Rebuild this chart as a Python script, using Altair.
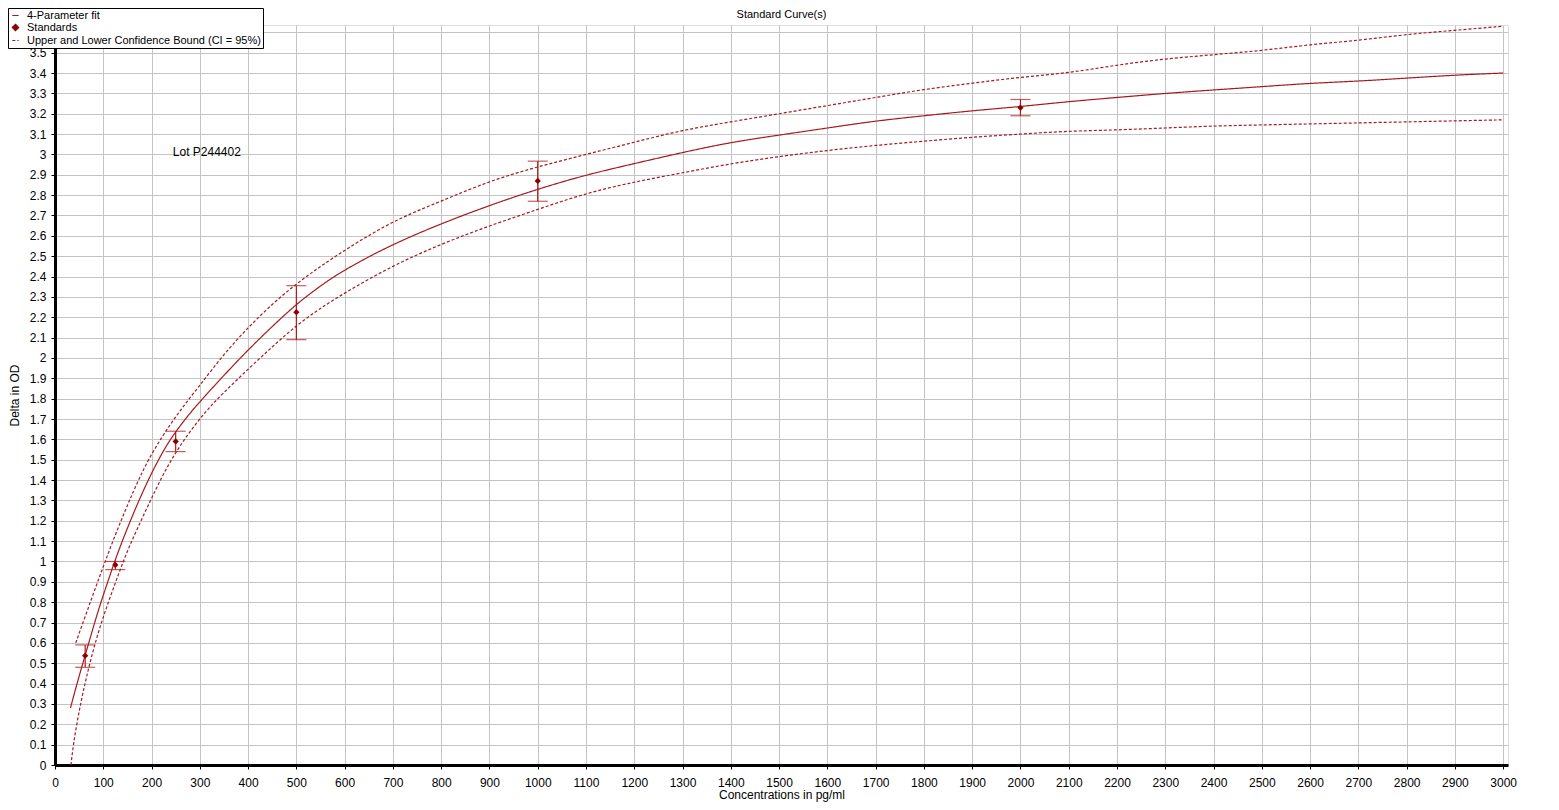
import altair as alt
import pandas as pd

# ---------------- data ----------------
series_names = ["4-Parameter fit", "Standards", "Upper and Lower Confidence Bound (CI = 95%)"]

fit_x = [32, 45, 62.5, 81, 93, 110, 122, 140, 157, 173, 191, 214, 242, 280, 300, 350, 400, 450, 500,
         550, 600, 700, 800, 900, 1000, 1100, 1200, 1300, 1400, 1500, 1600, 1700, 1800, 1900, 2000,
         2100, 2200, 2300, 2400, 2500, 2600, 2700, 2800, 2900, 3000]
fit_y = [0.28, 0.395, 0.54, 0.69, 0.785, 0.905, 0.99, 1.105, 1.205, 1.295, 1.39, 1.50, 1.615, 1.73,
         1.785, 1.915, 2.04, 2.155, 2.265, 2.355, 2.435, 2.56, 2.66, 2.75, 2.83, 2.90, 2.955, 3.01,
         3.06, 3.095, 3.13, 3.165, 3.19, 3.215, 3.235, 3.26, 3.28, 3.30, 3.317, 3.333, 3.35, 3.36,
         3.375, 3.39, 3.40]

upper_x = [43, 61, 77, 93, 107, 124, 141, 155, 173, 193, 221, 245, 273, 300, 350, 400, 450, 500, 550,
           600, 700, 800, 900, 1000, 1100, 1200, 1300, 1400, 1500, 1600, 1700, 1800, 1900, 2000, 2100,
           2200, 2300, 2400, 2500, 2600, 2700, 2800, 2900, 3000]
upper_y = [0.60, 0.72, 0.825, 0.93, 1.02, 1.125, 1.225, 1.305, 1.40, 1.50, 1.61, 1.695, 1.785, 1.865,
           2.02, 2.15, 2.265, 2.365, 2.45, 2.53, 2.675, 2.77, 2.87, 2.94, 3.00, 3.06, 3.12, 3.16, 3.20,
           3.24, 3.28, 3.32, 3.35, 3.38, 3.40, 3.44, 3.47, 3.49, 3.51, 3.54, 3.56, 3.59, 3.61, 3.63]

lower_x = [33, 38, 45, 53, 61, 70, 80, 92, 106, 122, 138, 155, 176, 197, 214, 238, 269, 309, 345, 400,
           450, 500, 550, 600, 700, 800, 900, 1000, 1100, 1200, 1300, 1400, 1500, 1600, 1700, 1800,
           1900, 2000, 2100, 2200, 2300, 2400, 2500, 2600, 2700, 2800, 2900, 3000]
lower_y = [0.00, 0.10, 0.20, 0.30, 0.39, 0.48, 0.57, 0.67, 0.77, 0.875, 0.98, 1.08, 1.19, 1.295, 1.38,
           1.49, 1.605, 1.73, 1.82, 1.945, 2.055, 2.16, 2.245, 2.32, 2.455, 2.56, 2.65, 2.73, 2.81,
           2.865, 2.91, 2.955, 2.99, 3.02, 3.045, 3.065, 3.085, 3.10, 3.115, 3.12, 3.13, 3.14, 3.145,
           3.15, 3.155, 3.16, 3.165, 3.17]

std_x = [62.5, 125, 250, 500, 1000, 2000]
std_y = [0.537, 0.983, 1.59, 2.225, 2.87, 3.23]
std_lo = [0.48, 0.96, 1.54, 2.09, 2.77, 3.19]
std_hi = [0.59, 1.00, 1.64, 2.355, 2.967, 3.27]

annot_text = ["Lot P244402"]
annot_x = [244]
annot_y = [3.014]

chart_title = "Standard Curve(s)"

x_ticks = list(range(0, 3001, 100))
y_ticks = [round(i * 0.1, 1) for i in range(0, 37)]

# ---------------- tables ----------------
fit_df = pd.DataFrame({"x": fit_x, "y": fit_y, "series": series_names[0], "part": "fit"})
up_df = pd.DataFrame({"x": upper_x, "y": upper_y, "series": series_names[2], "part": "upper"})
lo_df = pd.DataFrame({"x": lower_x, "y": lower_y, "series": series_names[2], "part": "lower"})
lines_df = pd.concat([fit_df, up_df, lo_df], ignore_index=True)
std_df = pd.DataFrame({"x": std_x, "y": std_y, "lo": std_lo, "hi": std_hi, "series": series_names[1]})
annot_df = pd.DataFrame({"x": annot_x, "y": annot_y, "t": annot_text})
title_df = pd.DataFrame({"t": [chart_title]})

FONT = "Liberation Sans"
RED = "#a8191c"
DARK = "#8b0000"
W, H = 1453, 740

xscale = alt.Scale(domain=[0, 3010], nice=False, zero=False)
yscale = alt.Scale(domain=[0, 3.636], nice=False)

common_axis = dict(labelFlush=False, labelOverlap=False, grid=True, gridColor="#c4c4c4", gridWidth=1,
                   domainColor="black", domainWidth=3, tickColor="black", tickSize=4,
                   labelFontSize=12, titleFontSize=12, titleFontWeight="normal",
                   labelFont=FONT, titleFont=FONT, labelColor="black", titleColor="black")
xaxis = alt.Axis(values=x_ticks, title="Concentrations in pg/ml", format="d",
                 labelPadding=8, titlePadding=1, **common_axis)
yaxis = alt.Axis(values=y_ticks, title="Delta in OD", format="~g",
                 labelPadding=5, titlePadding=8, **common_axis)


def X(field):
    return alt.X(field, type="quantitative", scale=xscale, axis=xaxis)


def Y(field):
    return alt.Y(field, type="quantitative", scale=yscale, axis=yaxis)


legend = alt.Legend(orient="none", legendX=-47, legendY=-17, title=None,
                    strokeColor="black", fillColor="white", padding=2,
                    labelFont=FONT, labelFontSize=11, labelColor="black",
                    rowPadding=0, symbolSize=40, symbolStrokeWidth=1.2, labelOffset=6,
                    labelLimit=400, zindex=2)

color = alt.Color("series:N", scale=alt.Scale(domain=series_names, range=[RED, DARK, RED]), legend=legend)
dash = alt.StrokeDash("series:N", scale=alt.Scale(domain=series_names, range=[[1, 0], [1, 0], [3, 2]]), legend=legend)
shape = alt.Shape("series:N", scale=alt.Scale(domain=series_names, range=["stroke", "diamond", "stroke"]), legend=legend)

lines = alt.Chart(lines_df).mark_line(strokeWidth=1.2, clip=True, interpolate="basis").encode(
    x=X("x"), y=Y("y"),
    color=color,
    strokeDash=dash,
    detail="part:N",
    order="x:Q",
)

bars = alt.Chart(std_df).mark_rule(color=RED, strokeWidth=1.2).encode(
    x=X("x"), y=Y("lo"), y2="hi:Q")
caps_lo = alt.Chart(std_df).mark_tick(color=RED, orient="horizontal", size=20, thickness=1.2).encode(
    x=X("x"), y=Y("lo"))
caps_hi = alt.Chart(std_df).mark_tick(color=RED, orient="horizontal", size=20, thickness=1.2).encode(
    x=X("x"), y=Y("hi"))
points = alt.Chart(std_df).mark_point(filled=True, size=40, opacity=1).encode(
    x=X("x"), y=Y("y"), color=color, shape=shape)

annot = alt.Chart(annot_df).mark_text(align="left", baseline="middle", font=FONT, fontSize=12,
                                      color="black").encode(x=X("x"), y=Y("y"), text="t:N")

title_mark = alt.Chart(title_df).mark_text(align="center", baseline="middle", font=FONT, fontSize=11,
                                           color="black", clip=False).encode(
    x=alt.value(W / 2), y=alt.value(-10), text="t:N")

chart = alt.layer(lines, bars, caps_lo, caps_hi, points, annot, title_mark).properties(
    width=W, height=H,
    autosize=alt.AutoSizeParams(type="none"),
    padding={"left": 47, "top": 17, "right": 20, "bottom": 37},
).configure_view(stroke=None).configure_axis(labelOverlap=False).configure(background="white")

chart.save("out.html", embed_options={"renderer": "svg", "actions": False})
